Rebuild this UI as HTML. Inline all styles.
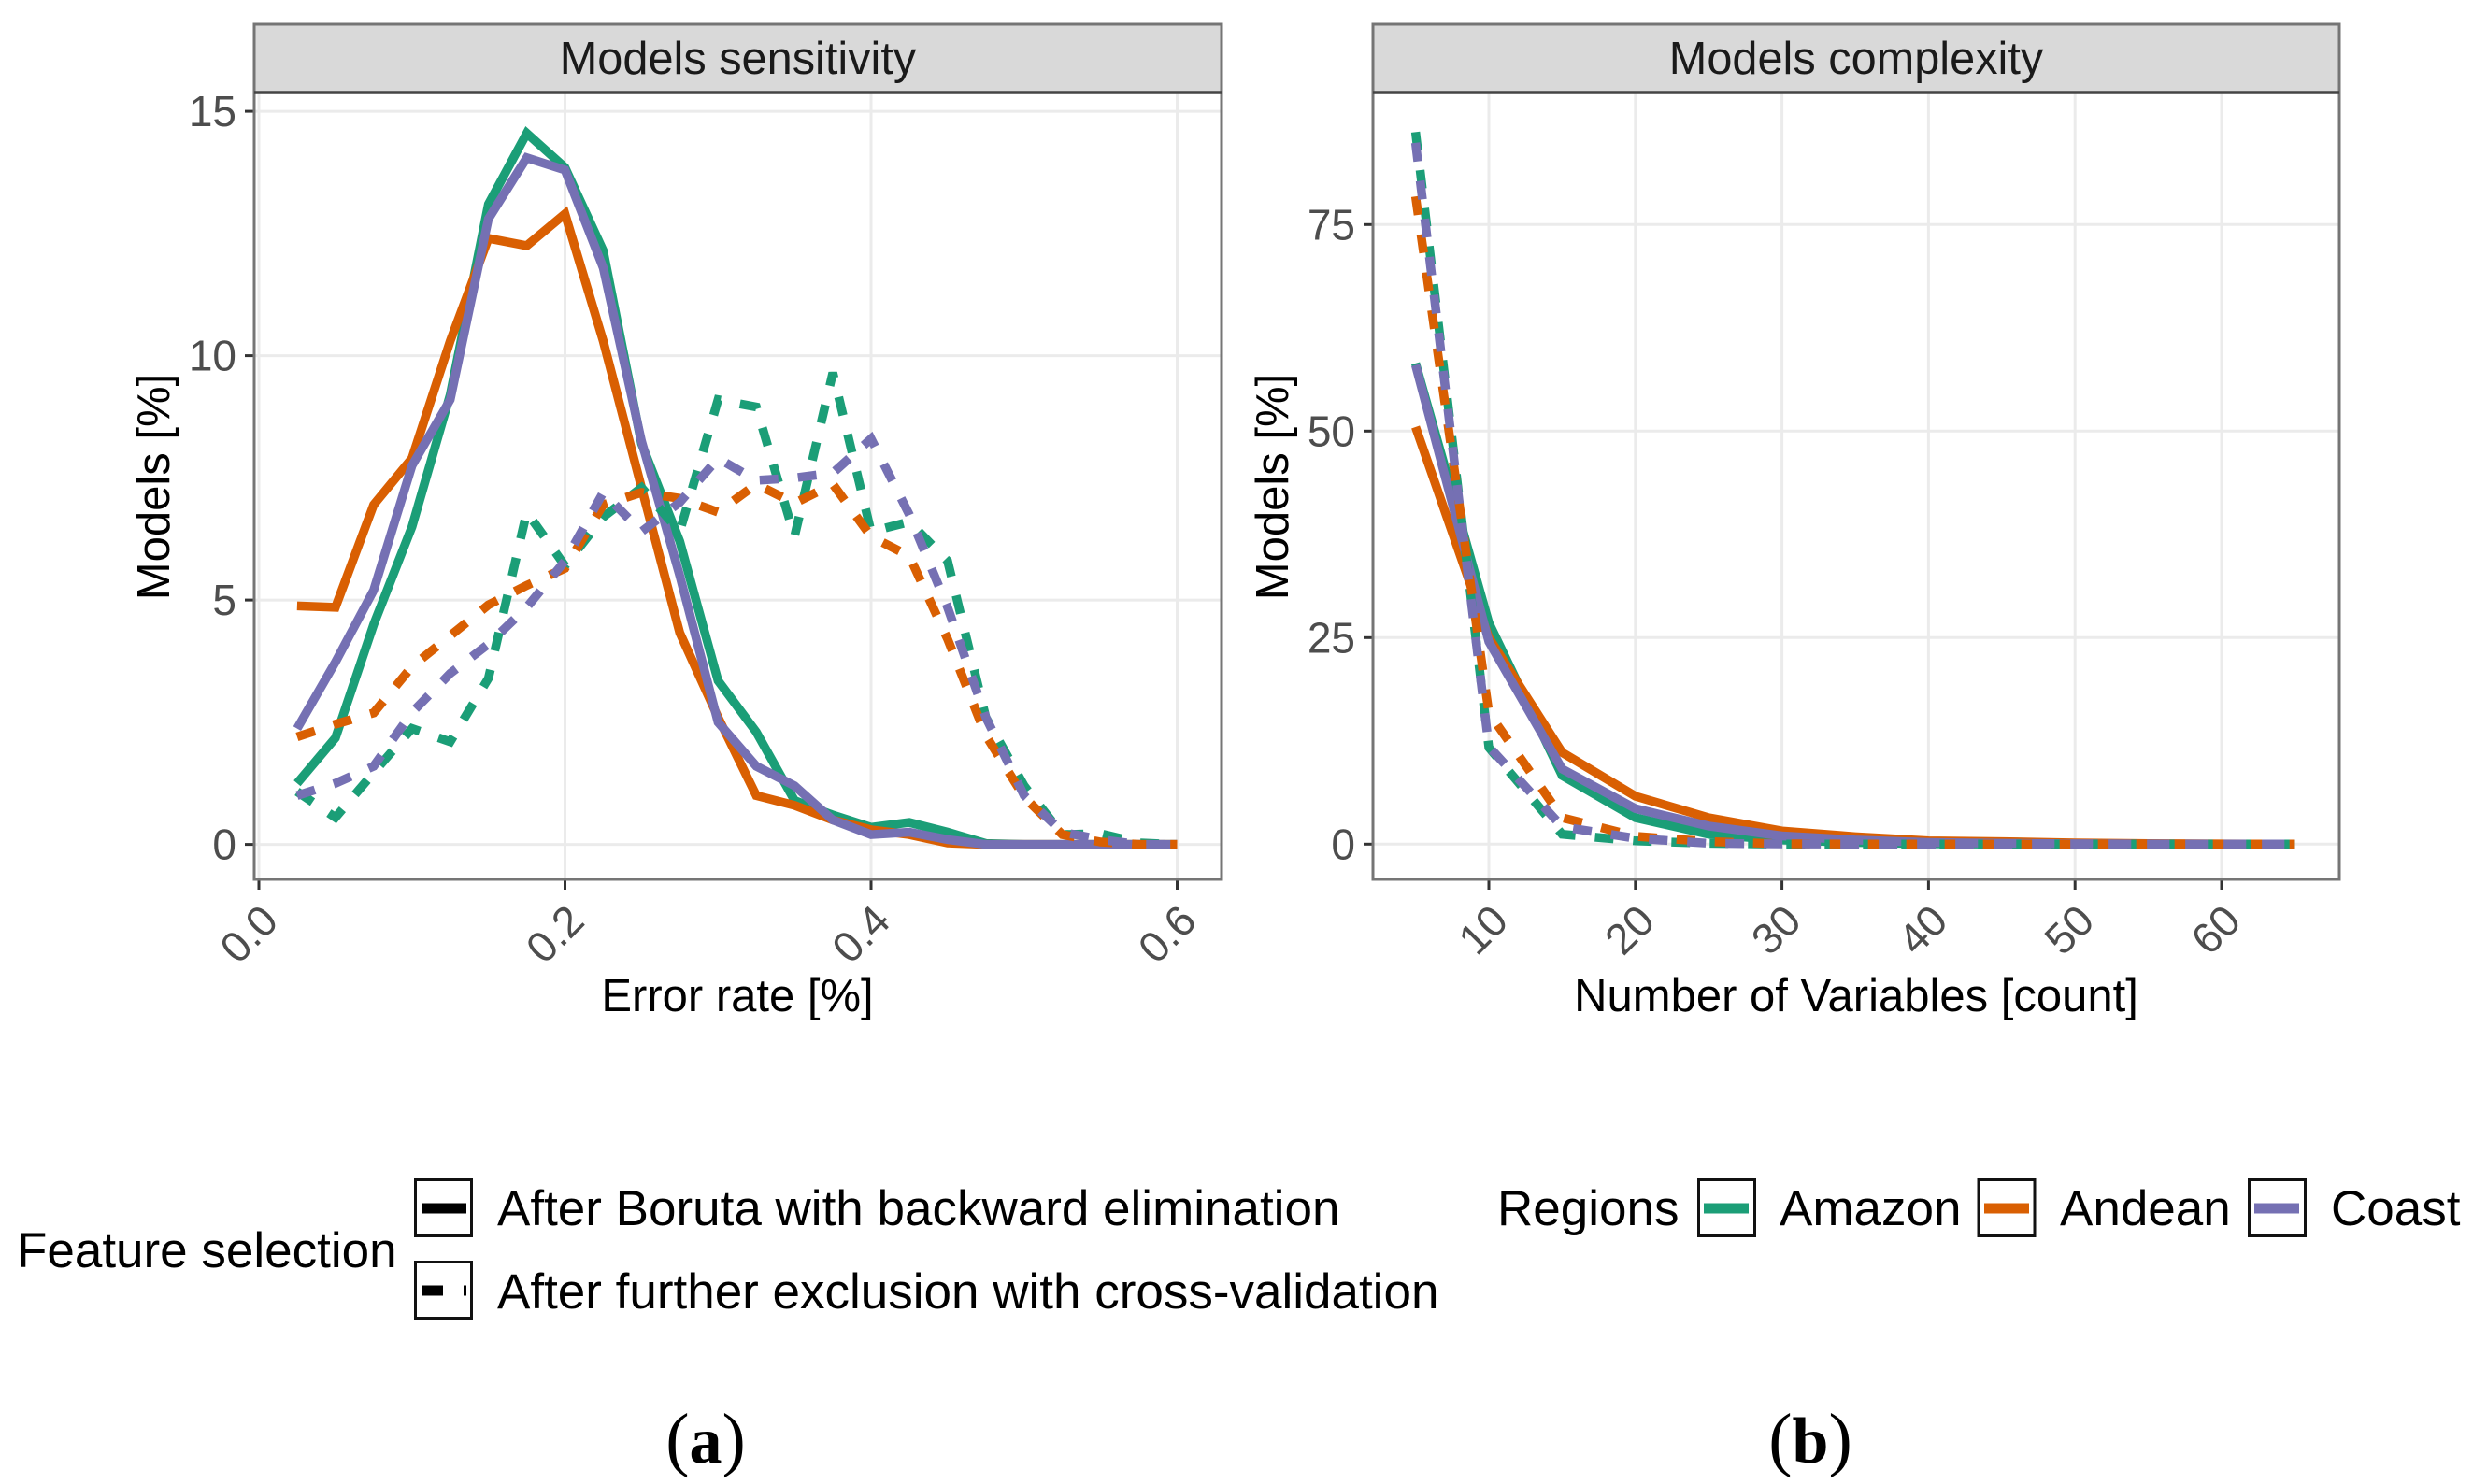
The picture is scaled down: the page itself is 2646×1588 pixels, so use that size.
<!DOCTYPE html>
<html>
<head>
<meta charset="utf-8">
<title>Models sensitivity and complexity</title>
<style>
html,body{margin:0;padding:0;background:#fff;width:2646px;height:1588px;overflow:hidden}
svg{display:block}
text{font-family:"Liberation Sans",Arial,sans-serif}
.strip{font-size:48.7px;fill:#1a1a1a;text-anchor:middle}
.title{font-size:49px;fill:#000}
.leg{font-size:53px;fill:#000}
.sub{font-family:"Liberation Serif",serif;font-size:70px;font-weight:bold;fill:#000;text-anchor:middle}
.paren{font-weight:normal;font-size:76px}
</style>
</head>
<body>
<svg id="fig" xmlns="http://www.w3.org/2000/svg" width="2646" height="1588" viewBox="0 0 2646 1588">
  <rect x="0" y="0" width="2646" height="1588" fill="#fff"/>
  <g id="panelA"></g>
  <g id="panelB"></g>

  <text class="strip" x="789.5" y="79">Models sensitivity</text>
  <text class="strip" x="1986" y="79">Models complexity</text>

  <text class="title" x="789" y="1082" text-anchor="middle">Error rate [%]</text>
  <text class="title" x="1986" y="1082" text-anchor="middle">Number of Variables [count]</text>
  <text class="title" text-anchor="middle" transform="translate(181,521) rotate(-90)">Models [%]</text>
  <text class="title" text-anchor="middle" transform="translate(1378,521) rotate(-90)">Models [%]</text>

  <g>
    <text class="leg" x="18" y="1356">Feature selection</text>
    <rect x="444.5" y="1262.5" width="60" height="60" fill="#fff" stroke="#111" stroke-width="3"/>
    <rect x="451" y="1287.5" width="48" height="11" fill="#000"/>
    <text class="leg" x="532" y="1311">After Boruta with backward elimination</text>
    <rect x="444.5" y="1350.5" width="60" height="60" fill="#fff" stroke="#111" stroke-width="3"/>
    <rect x="451" y="1375.5" width="23" height="11" fill="#000"/>
    <rect x="496" y="1375.5" width="3" height="11" fill="#000"/>
    <text class="leg" x="532" y="1400">After further exclusion with cross-validation</text>
  </g>

  <g>
    <text class="leg" x="1602" y="1311">Regions</text>
    <rect x="1817.5" y="1262.5" width="60" height="60" fill="#fff" stroke="#111" stroke-width="3"/>
    <rect x="1823" y="1287.5" width="48" height="11" fill="#1B9E77"/>
    <text class="leg" x="1904" y="1311">Amazon</text>
    <rect x="2117" y="1262.5" width="60" height="60" fill="#fff" stroke="#111" stroke-width="3"/>
    <rect x="2123" y="1287.5" width="48" height="11" fill="#D95F02"/>
    <text class="leg" x="2204" y="1311">Andean</text>
    <rect x="2406.5" y="1262.5" width="60" height="60" fill="#fff" stroke="#111" stroke-width="3"/>
    <rect x="2412" y="1287.5" width="48" height="11" fill="#7570B3"/>
    <text class="leg" x="2494" y="1311">Coast</text>
  </g>

  <text class="sub" x="755" y="1565"><tspan class="paren">(</tspan>a<tspan class="paren">)</tspan></text>
  <text class="sub" x="1937" y="1565"><tspan class="paren">(</tspan>b<tspan class="paren">)</tspan></text>
</svg>

<script>
// ---------- Panel A data: error rate vs. share of models ----------
const errorRates = [0.025,0.05,0.075,0.1,0.125,0.15,0.175,0.2,0.225,0.25,0.275,0.3,0.325,0.35,0.375,0.4,0.425,0.45,0.475,0.5,0.525,0.55,0.575,0.6];
const amazonSolidA = [1.25,2.18,4.5,6.5,9.2,13.1,14.55,13.85,12.15,8.2,6.2,3.35,2.3,0.9,0.6,0.35,0.45,0.25,0.02,0,0,0,0,0];
const andeanSolidA = [4.88,4.85,6.95,7.9,10.3,12.4,12.25,12.9,10.3,7.3,4.33,2.6,1.0,0.8,0.5,0.3,0.2,0.03,0,0,0,0,0,0];
const coastSolidA  = [2.37,3.73,5.2,7.75,9.1,12.8,14.05,13.8,11.8,8.25,5.5,2.5,1.6,1.2,0.5,0.2,0.25,0.1,0,0,0,0,0,0];
const amazonDashedA = [1.08,0.55,1.47,2.37,2.1,3.4,6.8,5.7,6.7,7.3,6.4,9.1,8.95,6.3,9.65,6.4,6.6,5.8,2.6,1.2,0.2,0.22,0.03,0];
const andeanDashedA = [2.2,2.46,2.69,3.64,4.27,4.9,5.3,5.65,6.95,7.2,7.08,6.8,7.37,6.98,7.37,6.3,5.9,4.2,2.23,0.97,0.2,0.05,0,0];
const coastDashedA  = [1.0,1.25,1.6,2.7,3.5,4.1,4.85,5.8,7.2,6.4,7.0,7.9,7.45,7.5,7.6,8.3,6.75,4.85,2.6,1.0,0.25,0.1,0,0];
const xTicksA = [0,0.2,0.4,0.6];
const xTickLabelsA = ["0.0","0.2","0.4","0.6"];
const yTicksA = [0,5,10,15];
const yTickLabelsA = ["0","5","10","15"];

// ---------- Panel B data: number of variables vs. share of models ----------
const variableCounts = [5,10,15,20,25,30,35,40,45,50,55,60,65];
const amazonSolidB = [58.2,26.8,8.3,3.2,1.2,0.5,0.2,0.05,0,0,0,0,0];
const andeanSolidB = [50.5,25,11.1,5.8,3.2,1.6,0.9,0.4,0.3,0.15,0.07,0.02,0];
const coastSolidB  = [58,24.5,9.1,4.3,2.2,1.0,0.5,0.2,0.1,0.05,0.02,0,0];
const amazonDashedB = [86.2,11.7,1.2,0.4,0.1,0,0,0,0,0,0,0,0];
const andeanDashedB = [78.4,15.9,3.2,0.95,0.3,0.05,0,0,0,0,0,0,0];
const coastDashedB  = [84.9,11.8,2.1,0.7,0.1,0.03,0,0,0,0,0,0,0];
const xTicksB = [10,20,30,40,50,60];
const xTickLabelsB = ["10","20","30","40","50","60"];
const yTicksB = [0,25,50,75];
const yTickLabelsB = ["0","25","50","75"];

const NS = "http://www.w3.org/2000/svg";
const GREEN = "#1B9E77", ORANGE = "#D95F02", PURPLE = "#7570B3";

function xScaleA(v){ return 277 + 1637.5 * v; }
function yScaleA(v){ return 903.6 - 52.3 * v; }
function xScaleB(v){ return 1593 + 15.68 * (v - 10); }
function yScaleB(v){ return 903.3 - 8.84 * v; }

function mk(tag, attrs){
  const el = document.createElementNS(NS, tag);
  for (const k in attrs) el.setAttribute(k, attrs[k]);
  return el;
}

function drawPanel(root, box, xS, yS, xT, xL, yT, yL, xs, series, prefix){
  const panel = mk("rect", {x:box.l, y:box.t, width:box.r-box.l, height:box.b-box.t, fill:"#fff"});
  
  
  root.appendChild(panel);

  yT.forEach(function(v, i){
    const g = mk("line", {x1:box.l, x2:box.r, y1:yS(v), y2:yS(v), stroke:"#ebebeb", "stroke-width":3});
    
    
    root.appendChild(g);
    const t = mk("line", {x1:box.l-10, x2:box.l, y1:yS(v), y2:yS(v), stroke:"#333", "stroke-width":3});
    
    
    root.appendChild(t);
    const lab = mk("text", {x:box.l-19, y:yS(v)+16, "text-anchor":"end", "font-size":46, fill:"#4d4d4d"});
    
    
    lab.textContent = yL[i];
    root.appendChild(lab);
  });

  xT.forEach(function(v, i){
    const g = mk("line", {x1:xS(v), x2:xS(v), y1:box.t, y2:box.b, stroke:"#ebebeb", "stroke-width":3});
    
    
    root.appendChild(g);
    const t = mk("line", {x1:xS(v), x2:xS(v), y1:box.b, y2:box.b+11, stroke:"#333", "stroke-width":3});
    
    
    root.appendChild(t);
    const lab = mk("text", {"text-anchor":"end", "font-size":46, fill:"#4d4d4d",
      transform:"translate(" + (xS(v)+23) + ",988) rotate(-45)"});
    
    
    lab.textContent = xL[i];
    root.appendChild(lab);
  });

  series.forEach(function(s){
    const pts = xs.map(function(x, i){ return xS(x).toFixed(1) + "," + yS(s.values[i]).toFixed(1); }).join(" ");
    const line = mk("polyline", {points:pts, fill:"none", stroke:s.color, "stroke-width":9.5, "stroke-linejoin":"miter", "stroke-miterlimit":3, "stroke-linecap":"butt"});
    if (s.dashed) line.setAttribute("stroke-dasharray", "20 21");
    
    
    root.appendChild(line);
  });

  const border = mk("rect", {x:box.l, y:box.t, width:box.r-box.l, height:box.b-box.t, fill:"none", stroke:"#757575", "stroke-width":3});
  
  
  root.appendChild(border);

  const strip = mk("rect", {x:box.l, y:26, width:box.r-box.l, height:box.t-26, fill:"#d9d9d9", stroke:"#757575", "stroke-width":3});
  
  
  root.appendChild(strip);

  const rule = mk("line", {x1:box.l, x2:box.r, y1:box.t, y2:box.t, stroke:"#444", "stroke-width":3.5});
  
  
  root.appendChild(rule);
}

drawPanel(document.getElementById("panelA"),
  {l:272, r:1307, t:99, b:941}, xScaleA, yScaleA,
  xTicksA, xTickLabelsA, yTicksA, yTickLabelsA, errorRates,
  [
    {name:"amazon-solid", color:GREEN, values:amazonSolidA, dashed:false},
    {name:"andean-solid", color:ORANGE, values:andeanSolidA, dashed:false},
    {name:"coast-solid", color:PURPLE, values:coastSolidA, dashed:false},
    {name:"amazon-dashed", color:GREEN, values:amazonDashedA, dashed:true},
    {name:"andean-dashed", color:ORANGE, values:andeanDashedA, dashed:true},
    {name:"coast-dashed", color:PURPLE, values:coastDashedA, dashed:true}
  ], "line-sensitivity");

drawPanel(document.getElementById("panelB"),
  {l:1469, r:2503, t:99, b:941}, xScaleB, yScaleB,
  xTicksB, xTickLabelsB, yTicksB, yTickLabelsB, variableCounts,
  [
    {name:"amazon-solid", color:GREEN, values:amazonSolidB, dashed:false},
    {name:"andean-solid", color:ORANGE, values:andeanSolidB, dashed:false},
    {name:"coast-solid", color:PURPLE, values:coastSolidB, dashed:false},
    {name:"amazon-dashed", color:GREEN, values:amazonDashedB, dashed:true},
    {name:"andean-dashed", color:ORANGE, values:andeanDashedB, dashed:true},
    {name:"coast-dashed", color:PURPLE, values:coastDashedB, dashed:true}
  ], "line-complexity");
</script>
</body>
</html>
